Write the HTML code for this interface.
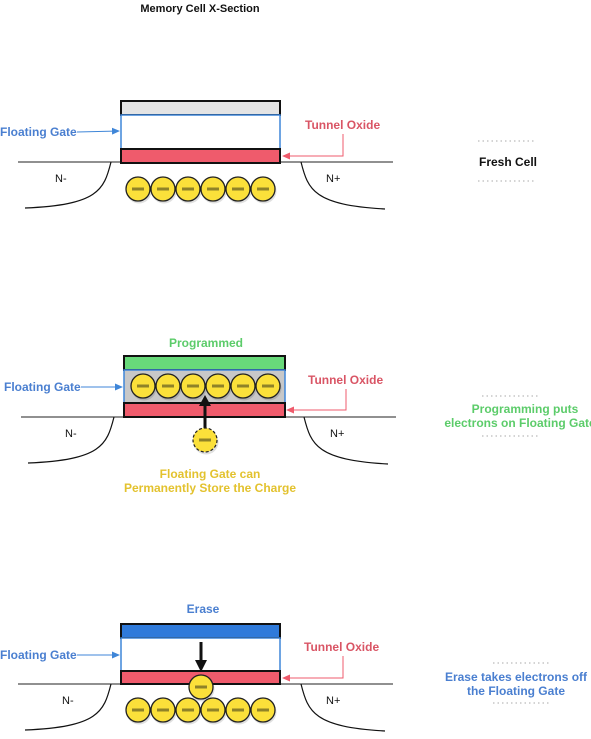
<!DOCTYPE html>
<html><head><meta charset="utf-8"><style>
html,body{margin:0;padding:0;background:#fff}
svg{display:block}
text{font-family:"Liberation Sans",Arial,sans-serif;font-weight:bold;font-size:12px}
</style></head><body>
<svg width="591" height="739" viewBox="0 0 591 739" xmlns="http://www.w3.org/2000/svg">
<defs>
<marker id="ab" markerWidth="8" markerHeight="8" refX="7" refY="4" orient="auto" markerUnits="userSpaceOnUse"><path d="M0,0.5 L8,4 L0,7.5 Z" fill="#3f86d8"/></marker>
<marker id="ar" markerWidth="8" markerHeight="8" refX="7" refY="4" orient="auto" markerUnits="userSpaceOnUse"><path d="M0,0.5 L8,4 L0,7.5 Z" fill="#ef5b6c"/></marker>
<g id="e"><circle cx="1" cy="2" r="12.5" fill="#000" opacity="0.12"/><circle r="12" fill="#fbe03a" stroke="#222" stroke-width="1.3"/><line x1="-6" y1="0" x2="6" y2="0" stroke="#8f8228" stroke-width="3"/></g>
<g id="sub">
<path d="M18 162 L120 162 M280 162 L393 162" stroke="#222" stroke-width="1" fill="none"/>
<path d="M111 162 C104 190 98 205 25 208" stroke="#111" stroke-width="1.2" fill="none"/>
<path d="M301 162 C308 190 314 205 385 209" stroke="#111" stroke-width="1.2" fill="none"/>
</g>
</defs>

<text x="200" y="12" text-anchor="middle" fill="#111" style="font-size:11px">Memory Cell X-Section</text>

<!-- Panel 1 -->
<use href="#sub"/>
<text x="55" y="182" style="font-weight:normal;font-size:11px" fill="#111">N-</text>
<text x="326" y="182" style="font-weight:normal;font-size:11px" fill="#111">N+</text>
<rect x="121" y="101" width="159" height="14" fill="#e4e4e4" stroke="#111" stroke-width="2"/>
<rect x="121" y="115" width="159" height="34" fill="#fff" stroke="#3f86d8" stroke-width="1.5"/>
<rect x="121" y="149" width="159" height="14" fill="#ef5b6c" stroke="#111" stroke-width="2"/>
<use href="#e" x="138" y="189"/><use href="#e" x="163" y="189"/><use href="#e" x="188" y="189"/><use href="#e" x="213" y="189"/><use href="#e" x="238" y="189"/><use href="#e" x="263" y="189"/>
<text x="0" y="136" fill="#4a7fd0">Floating Gate</text>
<line x1="77" y1="132" x2="119" y2="131" stroke="#3f86d8" stroke-width="1" marker-end="url(#ab)"/>
<text x="305" y="129" fill="#d95565">Tunnel Oxide</text>
<path d="M343 134 L343 156 L283 156" stroke="#ef5b6c" fill="none" stroke-width="1" marker-end="url(#ar)"/>
<line x1="478" y1="141" x2="535" y2="141" stroke="#aaa" stroke-dasharray="1.5,3"/>
<text x="479" y="166" fill="#111">Fresh Cell</text>
<line x1="478" y1="181" x2="535" y2="181" stroke="#aaa" stroke-dasharray="1.5,3"/>

<!-- Panel 2 -->
<g transform="translate(3,255)"><use href="#sub"/></g>
<text x="65" y="437" style="font-weight:normal;font-size:11px" fill="#111">N-</text>
<text x="330" y="437" style="font-weight:normal;font-size:11px" fill="#111">N+</text>
<text x="206" y="347" text-anchor="middle" fill="#5ccc6a">Programmed</text>
<rect x="124" y="356" width="161" height="14" fill="#68d97a" stroke="#111" stroke-width="2"/>
<rect x="124" y="370" width="161" height="33" fill="#c8c8c8" stroke="#3f86d8" stroke-width="1.5"/>
<rect x="124" y="403" width="161" height="14" fill="#ef5b6c" stroke="#111" stroke-width="2"/>
<use href="#e" x="143" y="386"/><use href="#e" x="168" y="386"/><use href="#e" x="193" y="386"/><use href="#e" x="218" y="386"/><use href="#e" x="243" y="386"/><use href="#e" x="268" y="386"/>
<line x1="205" y1="428" x2="205" y2="404" stroke="#111" stroke-width="3"/>
<path d="M199 406 L205 395 L211 406 Z" fill="#111"/>
<circle cx="206" cy="442" r="12.5" fill="#000" opacity="0.12"/>
<circle cx="205" cy="440" r="12" fill="#fbe03a" stroke="#222" stroke-width="1.2" stroke-dasharray="3,2"/>
<line x1="199" y1="440" x2="211" y2="440" stroke="#8f8228" stroke-width="3"/>
<text x="4" y="391" fill="#4a7fd0">Floating Gate</text>
<line x1="81" y1="387" x2="122" y2="387" stroke="#3f86d8" stroke-width="1" marker-end="url(#ab)"/>
<text x="308" y="384" fill="#d95565">Tunnel Oxide</text>
<path d="M346 389 L346 410 L287 410" stroke="#ef5b6c" fill="none" stroke-width="1" marker-end="url(#ar)"/>
<text x="210" y="478" text-anchor="middle" fill="#e3c22e">Floating Gate can</text>
<text x="210" y="492" text-anchor="middle" fill="#e3c22e">Permanently Store the Charge</text>
<line x1="482" y1="396" x2="539" y2="396" stroke="#aaa" stroke-dasharray="1.5,3"/>
<text x="525" y="413" text-anchor="middle" fill="#5ccc6a">Programming puts</text>
<text x="520" y="427" text-anchor="middle" fill="#5ccc6a">electrons on Floating Gate</text>
<line x1="482" y1="436" x2="539" y2="436" stroke="#aaa" stroke-dasharray="1.5,3"/>

<!-- Panel 3 -->
<g transform="translate(0,522)"><use href="#sub"/></g>
<text x="62" y="704" style="font-weight:normal;font-size:11px" fill="#111">N-</text>
<text x="326" y="704" style="font-weight:normal;font-size:11px" fill="#111">N+</text>
<text x="203" y="613" text-anchor="middle" fill="#4a7fd0">Erase</text>
<rect x="121" y="624" width="159" height="14" fill="#2f7ada" stroke="#111" stroke-width="2"/>
<rect x="121" y="638" width="159" height="33" fill="#fff" stroke="#3f86d8" stroke-width="1.5"/>
<rect x="121" y="671" width="159" height="13" fill="#ef5b6c" stroke="#111" stroke-width="2"/>
<line x1="201" y1="642" x2="201" y2="662" stroke="#111" stroke-width="3"/>
<path d="M195 660 L201 672 L207 660 Z" fill="#111"/>
<use href="#e" x="201" y="687"/>
<use href="#e" x="138" y="710"/><use href="#e" x="163" y="710"/><use href="#e" x="188" y="710"/><use href="#e" x="213" y="710"/><use href="#e" x="238" y="710"/><use href="#e" x="263" y="710"/>
<text x="0" y="659" fill="#4a7fd0">Floating Gate</text>
<line x1="77" y1="655" x2="119" y2="655" stroke="#3f86d8" stroke-width="1" marker-end="url(#ab)"/>
<text x="304" y="651" fill="#d95565">Tunnel Oxide</text>
<path d="M343 656 L343 678 L283 678" stroke="#ef5b6c" fill="none" stroke-width="1" marker-end="url(#ar)"/>
<line x1="493" y1="663" x2="550" y2="663" stroke="#aaa" stroke-dasharray="1.5,3"/>
<text x="516" y="681" text-anchor="middle" fill="#4a7fd0">Erase takes electrons off</text>
<text x="516" y="695" text-anchor="middle" fill="#4a7fd0">the Floating Gate</text>
<line x1="493" y1="703" x2="550" y2="703" stroke="#aaa" stroke-dasharray="1.5,3"/>
</svg>
</body></html>
